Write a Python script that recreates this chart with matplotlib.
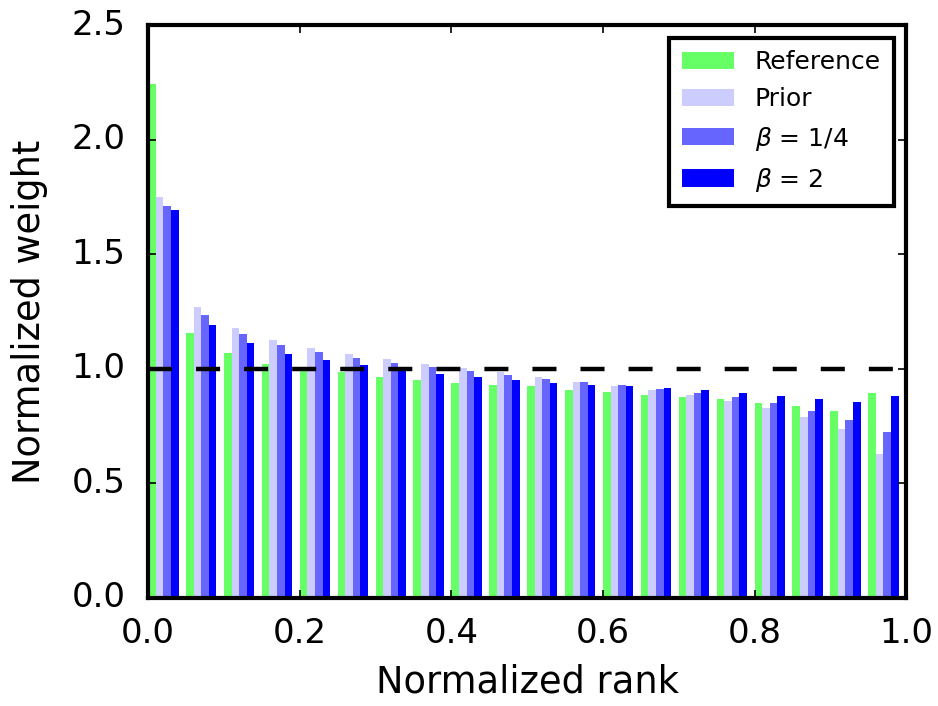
import numpy as np
import matplotlib
matplotlib.use("Agg")
import matplotlib.pyplot as plt

# bin start positions (normalized rank), 20 bins of width 0.05
bins = np.arange(20) * 0.05

reference = [2.241, 1.156, 1.068, 1.020, 0.990, 0.985, 0.964, 0.951, 0.937, 0.929,
             0.924, 0.907, 0.898, 0.885, 0.876, 0.867, 0.850, 0.837, 0.815, 0.893]
prior = [1.750, 1.269, 1.178, 1.125, 1.090, 1.064, 1.042, 1.020, 1.002, 0.985,
         0.964, 0.942, 0.924, 0.907, 0.885, 0.858, 0.828, 0.788, 0.736, 0.627]
beta_quarter = [1.711, 1.234, 1.151, 1.103, 1.073, 1.046, 1.024, 1.007, 0.990, 0.972,
                0.955, 0.942, 0.929, 0.911, 0.893, 0.876, 0.850, 0.815, 0.775, 0.723]
beta_two = [1.693, 1.190, 1.112, 1.064, 1.038, 1.016, 0.990, 0.977, 0.964, 0.951,
            0.937, 0.929, 0.924, 0.915, 0.907, 0.893, 0.880, 0.867, 0.854, 0.880]

plt.style.use('classic')
plt.rcParams['font.family'] = 'DejaVu Sans'
plt.rcParams['mathtext.fontset'] = 'dejavusans'

fig = plt.figure(figsize=(9.38, 7.06), dpi=100, facecolor='white')
ax = fig.add_axes([0.158, 0.153, 0.808, 0.8115])

w = 0.01
ax.bar(bins, reference, w, align='edge', color='#66ff66', edgecolor='none', label='Reference')
ax.bar(bins + w, prior, w, align='edge', color='#ccccff', edgecolor='none', label='Prior')
ax.bar(bins + 2 * w, beta_quarter, w, align='edge', color='#6666ff', edgecolor='none', label=r'$\beta$ = 1/4')
ax.bar(bins + 3 * w, beta_two, w, align='edge', color='#0000ff', edgecolor='none', label=r'$\beta$ = 2')

# classic style does not scale dashes with line width, so pattern is in points
ax.axhline(1.0, color='black', lw=3.2, ls=(0, (17.3, 17.3)))

ax.set_xlim(0, 1)
ax.set_ylim(0, 2.5)
ax.set_xticks([0, 0.2, 0.4, 0.6, 0.8, 1.0])
ax.set_yticks([0, 0.5, 1.0, 1.5, 2.0, 2.5])
ax.set_xticklabels(['0.0', '0.2', '0.4', '0.6', '0.8', '1.0'])
ax.set_yticklabels(['0.0', '0.5', '1.0', '1.5', '2.0', '2.5'])
ax.tick_params(labelsize=24.5, width=1.2, length=6, direction='in', top=True, right=True)
ax.tick_params(axis='x', pad=13.5)
ax.tick_params(axis='y', pad=16.5)
for s in ax.spines.values():
    s.set_linewidth(3)

ax.set_xlabel('Normalized rank', fontsize=26.5, labelpad=10)
ax.set_ylabel('Normalized weight', fontsize=26.5, labelpad=17)

leg = ax.legend(loc='upper right', fontsize=18, fancybox=False, handlelength=2.08,
                handleheight=0.68, handletextpad=0.84, labelspacing=0.53,
                borderpad=0.5, borderaxespad=0.5)
leg.get_frame().set_linewidth(3)
leg.get_frame().set_edgecolor('black')

fig.savefig('out.png', dpi=100, facecolor='white')
